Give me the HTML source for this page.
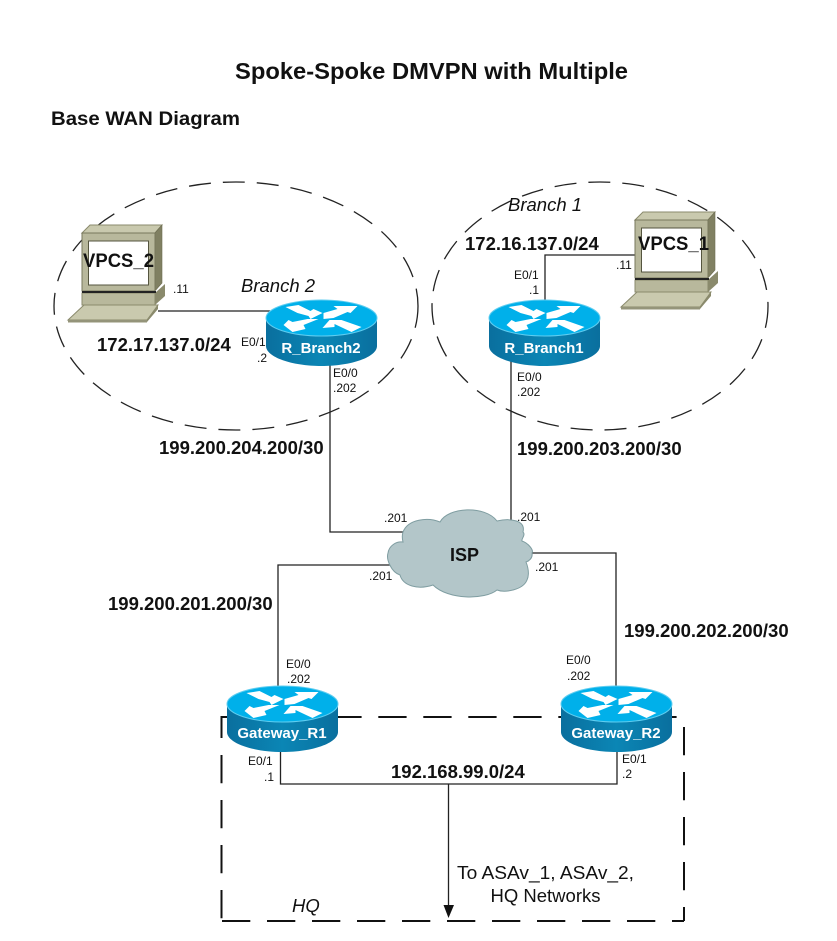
<!DOCTYPE html>
<html><head><meta charset="utf-8"><style>
html,body{margin:0;padding:0;background:#fff}
svg{display:block}
text{font-family:"Liberation Sans",sans-serif;fill:#111}
.b{font-weight:bold;font-size:18.5px}
.s{font-size:12px}
.i{font-style:italic;font-size:18.5px}
.r{font-weight:bold;font-size:15px;fill:#fff;text-anchor:middle}
.v{font-weight:bold;font-size:19px}
.l{fill:none;stroke:#222;stroke-width:1.3}
.h{fill:none;stroke:#111;stroke-width:2;stroke-dasharray:28.3 16.7}
</style></head><body>
<svg xmlns="http://www.w3.org/2000/svg" width="837" height="941" viewBox="0 0 837 941">
<defs>
<linearGradient id="side" x1="0" x2="1" y1="0" y2="0"><stop offset="0" stop-color="#0a6f9e"/><stop offset=".5" stop-color="#0b86b5"/><stop offset="1" stop-color="#0a6f9e"/></linearGradient>
<g id="router">
<path d="M-55.5 18V46C-55.5 57 -30 66 0 66S55.5 57 55.5 46V18Z" fill="url(#side)"/>
<ellipse cx="0" cy="18" rx="55.5" ry="18" fill="#00b0ea"/>
<ellipse cx="0" cy="18" rx="55.5" ry="18" fill="none" stroke="#5fcdf0" stroke-width="1"/>
<path d="M-36 7L-23 5L-11 11L-8 9L1 13L-11 19L-13 16L-24 13Z" fill="#fff"/>
<path d="M2 13L16 9L12 6L36 6L29 13L26 12L12 18L2 19Z" fill="#fff"/>
<path d="M-38 25L-33 20L-29 22L-14 19L-3 19L-18 25L-16 29L-29 32Z" fill="#fff"/>
<path d="M1 28L8 20L20 20L40 27L30 32L13 24L13 27Z" fill="#fff"/>
</g>
<g id="pc">
<path d="M68 320L84 305H158L147 320Z" fill="#c9c9ae" stroke="#8a8a6c"/>
<rect x="68" y="320" width="79" height="2.5" fill="#94947a"/>
<path d="M147 322L158 309V305L147 320Z" fill="#8a8a6c"/>
<rect x="82" y="293" width="73" height="12" fill="#b8b89c" stroke="#8a8a6c"/>
<path d="M155 293L165 284V296L155 305Z" fill="#8a8a6c"/>
<path d="M82 233L90 225H162L155 233Z" fill="#c9c9ae" stroke="#8a8a6c"/>
<path d="M155 233L162 225V283L155 291Z" fill="#808062" stroke="#6e6e52" stroke-width=".6"/>
<rect x="82" y="233" width="73" height="58" fill="#b8b89c" stroke="#77775c"/>
<rect x="88.500" y="241" width="60" height="44" fill="#fff" stroke="#55553f"/>
<rect x="82" y="291" width="74" height="2" fill="#222"/>
</g>
</defs>

<text x="235" y="79" font-weight="bold" font-size="23" textLength="393" lengthAdjust="spacingAndGlyphs">Spoke-Spoke DMVPN with Multiple</text>
<text x="51" y="125" font-weight="bold" font-size="19" textLength="189" lengthAdjust="spacingAndGlyphs">Base WAN Diagram</text>

<ellipse cx="236" cy="306" rx="182" ry="124" fill="none" stroke="#222" stroke-width="1.3" stroke-dasharray="22 12"/>
<ellipse cx="600" cy="306" rx="168" ry="124" fill="none" stroke="#222" stroke-width="1.3" stroke-dasharray="22 12"/>

<path d="M221.500 717H230M221.500 716V738" fill="none" stroke="#111" stroke-width="2"/>
<path class="h" d="M243.300 717H677"/>
<path class="h" d="M684 727V921"/>
<path class="h" d="M222 921H684"/>
<path class="h" d="M221.500 755V921"/>

<path class="l" d="M158 311H270"/>
<path class="l" d="M545 300V255H640"/>
<path class="l" d="M511 360V521"/>
<path class="l" d="M330 360V532H404"/>
<path class="l" d="M278 690V565H394"/>
<path class="l" d="M616 690V553H530"/>
<path class="l" d="M280.500 750V784H617V750"/>
<path class="l" d="M448.500 784V908"/>
<path d="M443.500 905H454L448.500 918Z" fill="#111"/>

<path d="M403 532C408 519 428 517 440 522C448 507 485 505 497 521C510 518 526 520 523 532C526 535 521 539 522 541C528 543 534 550 532 553C533 558 529 561 526 562C530 572 528 578 527 580C523 590 505 593 497 590C485 600 448 600 433 585C418 590 403 586 400 575C391 572 386 559 388 553C389 546 396 541 403 542C402 538 402 535 403 532Z" fill="#b3c6c9" stroke="#7f9da1" stroke-width="1"/>
<text x="450" y="561" font-weight="bold" font-size="18">ISP</text>

<use href="#router" x="321.500" y="300"/>
<use href="#router" x="544.500" y="300"/>
<use href="#router" x="282.500" y="686"/>
<use href="#router" x="616.500" y="686"/>
<text class="r" x="321" y="353">R_Branch2</text>
<text class="r" x="544" y="353">R_Branch1</text>
<text class="r" x="282" y="738">Gateway_R1</text>
<text class="r" x="616" y="738">Gateway_R2</text>

<use href="#pc"/>
<use href="#pc" transform="translate(553 -13)"/>
<text class="v" x="83" y="267" textLength="71" lengthAdjust="spacingAndGlyphs">VPCS_2</text>
<text class="v" x="638" y="250" textLength="71" lengthAdjust="spacingAndGlyphs">VPCS_1</text>

<text class="i" x="241" y="292">Branch 2</text>
<text class="i" x="508" y="211">Branch 1</text>
<text class="i" x="292" y="912">HQ</text>

<text class="b" x="97" y="351">172.17.137.0/24</text>
<text class="b" x="465" y="250">172.16.137.0/24</text>
<text class="b" x="159" y="454">199.200.204.200/30</text>
<text class="b" x="517" y="455">199.200.203.200/30</text>
<text class="b" x="108" y="610">199.200.201.200/30</text>
<text class="b" x="624" y="637">199.200.202.200/30</text>
<text class="b" x="391" y="778">192.168.99.0/24</text>

<text class="s" x="173" y="293">.11</text>
<text class="s" x="241" y="346">E0/1</text>
<text class="s" x="257" y="362">.2</text>
<text class="s" x="333" y="377">E0/0</text>
<text class="s" x="333" y="392">.202</text>
<text class="s" x="514" y="279">E0/1</text>
<text class="s" x="529" y="294">.1</text>
<text class="s" x="616" y="269">.11</text>
<text class="s" x="517" y="381">E0/0</text>
<text class="s" x="517" y="396">.202</text>
<text class="s" x="384" y="522">.201</text>
<text class="s" x="517" y="521">.201</text>
<text class="s" x="369" y="580">.201</text>
<text class="s" x="535" y="571">.201</text>
<text class="s" x="286" y="668">E0/0</text>
<text class="s" x="287" y="683">.202</text>
<text class="s" x="566" y="664">E0/0</text>
<text class="s" x="567" y="680">.202</text>
<text class="s" x="248" y="765">E0/1</text>
<text class="s" x="264" y="781">.1</text>
<text class="s" x="622" y="763">E0/1</text>
<text class="s" x="622" y="778">.2</text>

<text x="457" y="879" font-size="18.800" textLength="177" lengthAdjust="spacingAndGlyphs">To ASAv_1, ASAv_2,</text>
<text x="490.500" y="902" font-size="18.800" textLength="110" lengthAdjust="spacingAndGlyphs">HQ Networks</text>
</svg>
</body></html>
